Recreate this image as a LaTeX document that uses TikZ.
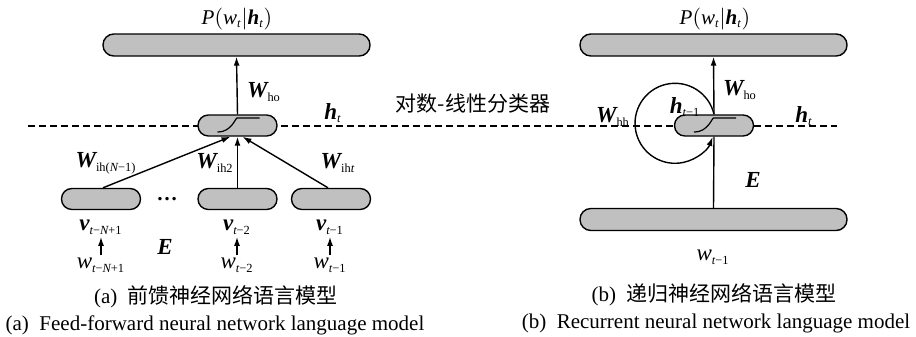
\documentclass[tikz,border=0pt]{standalone}
\usepackage{amsmath}
\usepackage{fontspec}
\setmainfont{Liberation Serif}
\newfontfamily\cjk{Noto Sans CJK SC}
\usetikzlibrary{arrows.meta}
\definecolor{cellgray}{RGB}{192,192,192}
\newcommand{\bi}[1]{\text{\bfseries\itshape #1}}
\newcommand{\ti}[1]{\text{\itshape #1}}
\newcommand{\lsub}[1]{_{\text{\fontsize{6.2}{7}\selectfont #1}}}

\begin{document}
\begin{tikzpicture}[x=0.5pt,y=-0.5pt,line width=0.7pt,
  >={Latex[length=4.5pt,width=3pt]},
  bar/.style={draw,fill=cellgray,rounded corners=5.4pt,minimum width=133.5pt,minimum height=11pt,inner sep=0pt},
  cell/.style={draw,fill=cellgray,rounded corners=5.2pt,minimum width=39.5pt,minimum height=10.5pt,inner sep=0pt},
  sig/.style={cell,path picture={\draw[line width=0.6pt,shift={(path picture bounding box.center)}]
    (-10pt,-3.3pt) .. controls (-3pt,-3.3pt) and (-1pt,3.8pt) .. (5pt,3.8pt) -- (11pt,3.8pt);}},
  lbl/.style={inner sep=1pt,font=\fontsize{10.5}{12}\selectfont},
  sym/.style={inner sep=1pt,font=\fontsize{11.5}{13}\selectfont}]
  \useasboundingbox (0,0) rectangle (916,337);

  \coordinate (dl) at (28,126);
  \coordinate (dr) at (837,126);
  \draw [dash pattern=on 3.5pt off 2pt] (dl) -- (dr);
  \node [lbl] (cls) at (473,104) {\cjk 对数-线性分类器};

  % (a) feed-forward
  \node [bar] (ol) at (236.5,45) {};
  \node [sig] (hl) at (237.5,125.5) {};
  \node [cell] (va) at (101,199) {};
  \node [cell] (vb) at (237.5,199) {};
  \node [cell] (vc) at (331,199) {};
  \node [lbl] (dots) at (167,199) {\textbf{…}};

  \node [lbl] (pl) at (237,19) {$\ti{P}(\ti{w}\lsub{\itshape t}|\bi{h}\lsub{\itshape t})$};
  \node [sym] (whol) at (264,92) {$\bi{W}\lsub{ho}$};
  \node [sym] (htl) at (333,113) {$\bi{h}\lsub{\itshape t}$};
  \node [sym] (wn) at (106,163) {$\bi{W}\lsub{ih(\itshape N\upshape −1)}$};
  \node [sym] (w2) at (215,163) {$\bi{W}\lsub{ih2}$};
  \node [sym] (wt) at (338,163) {$\bi{W}\lsub{ih\itshape t}$};
  \node [sym] (el) at (165,247) {$\bi{E}$};

  \node [sym] (xa) at (101,227) {$\bi{v}\lsub{\itshape t\upshape −\itshape N\upshape +1}$};
  \node [sym] (xb) at (237,227) {$\bi{v}\lsub{\itshape t\upshape −2}$};
  \node [sym] (xc) at (330,227) {$\bi{v}\lsub{\itshape t\upshape −1}$};
  \node [sym] (wa) at (101,265) {$\ti{w}\lsub{\itshape t\upshape −\itshape N\upshape +1}$};
  \node [sym] (wb) at (237,265) {$\ti{w}\lsub{\itshape t\upshape −2}$};
  \node [sym] (wc) at (330,265) {$\ti{w}\lsub{\itshape t\upshape −1}$};

  \draw [->] (hl.north) -- (ol.south);
  \draw [->] ([xshift=1pt]va.north) -- ([xshift=-3.5pt]hl.south);
  \draw [->] (vb.north) -- (hl.south);
  \draw [->] ([xshift=-1.5pt]vc.north) -- ([xshift=2.5pt]hl.south);
  \draw [->] (wa) -- (xa);
  \draw [->] (wb) -- (xb);
  \draw [->] (wc) -- (xc);

  % (b) recurrent
  \node [bar] (or) at (713.5,45) {};
  \node [sig] (hr) at (714,125.5) {};
  \node [bar] (br) at (713.5,219.5) {};

  \node [lbl] (pr) at (715,19) {$\ti{P}(\ti{w}\lsub{\itshape t}|\bi{h}\lsub{\itshape t})$};
  \node [sym] (whor) at (740,90) {$\bi{W}\lsub{ho}$};
  \node [sym] (htr) at (804,116) {$\bi{h}\lsub{\itshape t}$};
  \node [sym] (whh) at (613,117) {$\bi{W}\lsub{hh}$};
  \node [sym] (hprev) at (685,107) {$\bi{h}\lsub{\itshape t\upshape −1}$};
  \node [sym] (er) at (753,180) {$\bi{E}$};
  \node [sym] (wr) at (713,257) {$\ti{w}\lsub{\itshape t\upshape −1}$};

  \draw [->] (hr.north) -- (or.south);
  \draw (br.north) -- (hr.south);
  \draw [->] (hr.north) arc [start angle=-13,end angle=-340,radius=40];

  % captions
  \node [lbl] (ca) at (216,297) {(a)\ \ {\cjk 前馈神经网络语言模型}};
  \node [lbl] (ea) at (215,325) {(a)\ \ Feed-forward neural network language model};
  \node [lbl] (cb) at (714,295) {(b)\ \ {\cjk 递归神经网络语言模型}};
  \node [lbl] (eb) at (716,323) {(b)\ \ Recurrent neural network language model};
\end{tikzpicture}
\end{document}
